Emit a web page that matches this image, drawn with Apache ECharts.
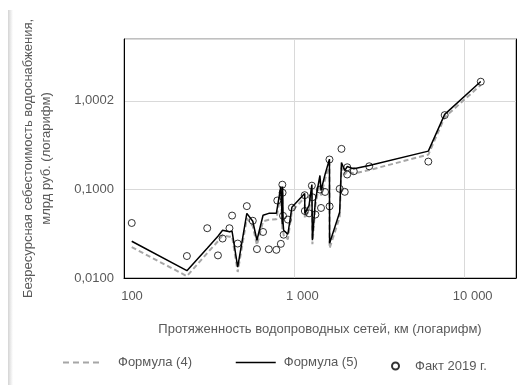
<!DOCTYPE html>
<html><head><meta charset="utf-8">
<script src="https://cdn.jsdelivr.net/npm/echarts/dist/echarts.min.js"></script>
<style>html,body{margin:0;padding:0;background:#fff}#c{width:521px;height:385px}</style>
</head><body><div id="c"></div>
<script>
// Протяженность водопроводных сетей, км
const lengthKm = [111, 234, 308, 356, 379, 416, 431, 465, 526, 570, 603, 655, 708, 784, 794, 833, 850, 853, 858, 865, 916, 967,
  1150, 1152, 1220, 1267, 1276, 1329, 1413, 1434, 1514, 1607, 1610, 1845, 1890, 1976, 2042, 2045, 2233, 2751, 6115, 7628, 12420];
// Факт 2019 г., млрд руб.
const fact2019 = [0.0418, 0.0177, 0.0365, 0.0180, 0.0279, 0.0365, 0.0507, 0.0245, 0.0648, 0.0443, 0.0212, 0.0331, 0.0211, 0.0208, 0.0750, 0.0243, 0.1132, 0.0918, 0.0504, 0.0308, 0.0457, 0.0623,
  0.0861, 0.0571, 0.0537, 0.1104, 0.0817, 0.0521, 0.0997, 0.0618, 0.0937, 0.2179, 0.0644, 0.1016, 0.2873, 0.0940, 0.1475, 0.1780, 0.1606, 0.1827, 0.2063, 0.6908, 1.648];
// Формула (5)
const formula5 = [0.0260, 0.0121, 0.0217, 0.0296, 0.0346, 0.0333, 0.0337, 0.0133, 0.0537, 0.0437, 0.0267, 0.0511, 0.0537, 0.0537, 0.0537, 0.1081, 0.0404, 0.1081, 0.0426, 0.0346, 0.0312, 0.0628,
  0.0902, 0.0537, 0.0661, 0.1138, 0.0267, 0.0752, 0.1437, 0.0975, 0.1475, 0.2202, 0.0247, 0.0552, 0.2010, 0.1635, 0.1813, 0.1837, 0.1709, 0.1861, 0.2708, 0.7052, 1.656];
// Формула (4)
const formula4 = [0.0223, 0.0105, 0.0191, 0.0260, 0.0304, 0.0293, 0.0296, 0.0117, 0.0472, 0.0384, 0.0235, 0.0437, 0.0454, 0.0460, 0.0460, 0.0925, 0.0355, 0.0925, 0.0365, 0.0304, 0.0274, 0.0566,
  0.0813, 0.0472, 0.0581, 0.1000, 0.0241, 0.0661, 0.1262, 0.0856, 0.1295, 0.1959, 0.0217, 0.0484, 0.1768, 0.1475, 0.1614, 0.1635, 0.1513, 0.1656, 0.2473, 0.6526, 1.513];

const xTickValues = [100, 1000, 10000];
const xTickLabels = ['100', '1 000', '10 000'];
const yTickValues = [0.01, 0.1, 1];
const yTickLabels = ['0,0100', '0,1000', '1,0002'];
const seriesNames = ['Формула (4)', 'Формула (5)', 'Факт 2019 г.'];

function tickLabel(values, labels) {
  return function (v) {
    for (let i = 0; i < values.length; i++) {
      if (Math.abs(Math.log10(v) - Math.log10(values[i])) < 1e-6) return labels[i];
    }
    return '';
  };
}
const pairs = arr => lengthKm.map((x, i) => [x, arr[i]]);
const txt = '#595959';
const font = 'Liberation Sans, Arial, sans-serif';
const noSymbol = { color: 'rgba(0,0,0,0)', borderColor: 'rgba(0,0,0,0)', borderWidth: 0 };

const chart = echarts.init(document.getElementById('c'));
chart.setOption({
  animation: false,
  backgroundColor: '#fff',
  textStyle: { fontFamily: font },
  graphic: [{
    type: 'rect', left: 8, top: 10, silent: true,
    shape: { width: 5, height: 375 },
    style: { fill: new echarts.graphic.LinearGradient(0, 0, 1, 0, [{ offset: 0, color: '#d4d4d4' }, { offset: 1, color: '#ffffff' }]) }
  }],
  grid: { left: 124, right: 5, top: 39, bottom: 107, show: true, borderColor: '#808080', borderWidth: 1, containLabel: false },
  xAxis: {
    type: 'log', logBase: 10, min: 100, max: 20000,
    name: 'Протяженность водопроводных сетей, км (логарифм)',
    nameLocation: 'middle', nameGap: 45,
    nameTextStyle: { color: txt, fontSize: 13, fontFamily: font },
    axisLine: { show: true, lineStyle: { color: '#000', width: 1 } },
    axisTick: { show: false },
    splitLine: { show: true, lineStyle: { color: '#d9d9d9', width: 1 } },
    axisLabel: { color: txt, fontSize: 13, margin: 12, padding: [0, 0, 0, 16], formatter: tickLabel(xTickValues, xTickLabels), showMaxLabel: false }
  },
  yAxis: [{
    type: 'log', logBase: 10, min: 0.01, max: 5,
    name: 'Безресурсная себестоимость водоснабжения,\nмлрд руб. (логарифм)',
    nameLocation: 'middle', nameGap: 69, nameRotate: 90,
    nameTextStyle: { color: txt, fontSize: 13, lineHeight: 18, fontFamily: font },
    axisLine: { show: true, lineStyle: { color: '#000', width: 1 } },
    axisTick: { show: false },
    splitLine: { show: true, lineStyle: { color: '#d9d9d9', width: 1 } },
    axisLabel: { color: txt, fontSize: 13, margin: 10, formatter: tickLabel(yTickValues, yTickLabels), showMaxLabel: false }
  }, {
    type: 'log', logBase: 10, min: 0.01, max: 5, position: 'right',
    axisLine: { show: true, lineStyle: { color: '#000', width: 1 } },
    axisTick: { show: false }, axisLabel: { show: false }, splitLine: { show: false }
  }],
  legend: [
    { data: [{ name: seriesNames[0], itemStyle: noSymbol, lineStyle: { color: '#a6a6a6', width: 2, type: [6, 4] } }],
      left: 62, top: 356, padding: 0, itemWidth: 38, itemHeight: 14,
      textStyle: { color: txt, fontSize: 13, padding: [0, 0, 0, 12] } },
    { data: [{ name: seriesNames[1], itemStyle: noSymbol, lineStyle: { color: '#000', width: 1.5 } }],
      left: 235, top: 356, padding: 0, itemWidth: 40, itemHeight: 14,
      textStyle: { color: txt, fontSize: 13, padding: [0, 0, 0, 3] } },
    { data: [seriesNames[2]], left: 391, top: 359.5, padding: 0, itemWidth: 7, itemHeight: 7,
      textStyle: { color: txt, fontSize: 13, padding: [0, 0, 0, 11] } }
  ],
  series: [
    { name: seriesNames[0], type: 'line', data: pairs(formula4), symbol: 'none', z: 2,
      lineStyle: { color: '#a6a6a6', width: 2, type: [5, 3] }, itemStyle: { color: '#a6a6a6' } },
    { name: seriesNames[1], type: 'line', data: pairs(formula5), symbol: 'none', z: 3,
      lineStyle: { color: '#000', width: 1.5 }, itemStyle: { color: '#000' } },
    { name: seriesNames[2], type: 'scatter', data: pairs(fact2019), symbol: 'circle', symbolSize: 7, z: 4,
      itemStyle: { color: 'rgba(255,255,255,0)', borderColor: '#000', borderWidth: 1 } }
  ]
});
</script>
</body></html>
